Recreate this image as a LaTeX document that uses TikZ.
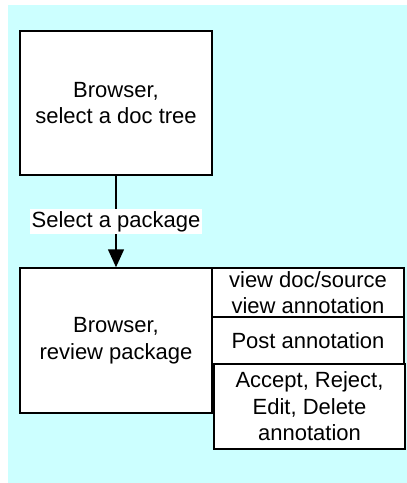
\documentclass[tikz,border=0pt]{standalone}
\usepackage{fontspec}
\setmainfont{Liberation Sans}
\usetikzlibrary{arrows.meta}
\definecolor{bgcyan}{RGB}{204,255,255}
\begin{document}
\begin{tikzpicture}[x=1pt,y=-1pt,
  box/.style={draw=black, line width=1.5pt, fill=white, inner sep=0pt, align=center,
    font=\fontsize{22}{26.5}\selectfont},
  lbl/.style={fill=white, inner sep=2pt, font=\fontsize{22}{26.5}\selectfont}]
\useasboundingbox (0,0) rectangle (407,483);
\fill[bgcyan] (8,5) rectangle (407,483);
\node[box, minimum width=192pt, minimum height=144pt] (b1) at (116,103) {Browser,\\select a doc tree};
\node[box, minimum width=192pt, minimum height=145pt] (b2) at (116,340.5) {Browser,\\review package};
\node[box, minimum width=192pt, minimum height=49pt] (ba) at (308,292.5) {view doc/source\\view annotation};
\node[box, minimum width=192pt, minimum height=47pt] (bb) at (308,340.5) {Post annotation};
\node[box, minimum width=191pt, minimum height=85pt] (bc) at (309.5,406.5) {Accept, Reject,\\Edit, Delete\\annotation};
\draw[line width=1.5pt, -{Triangle[width=16pt,length=18pt]}] (b1) -- node[lbl] (l) {Select a package} (b2);
\end{tikzpicture}
\end{document}
